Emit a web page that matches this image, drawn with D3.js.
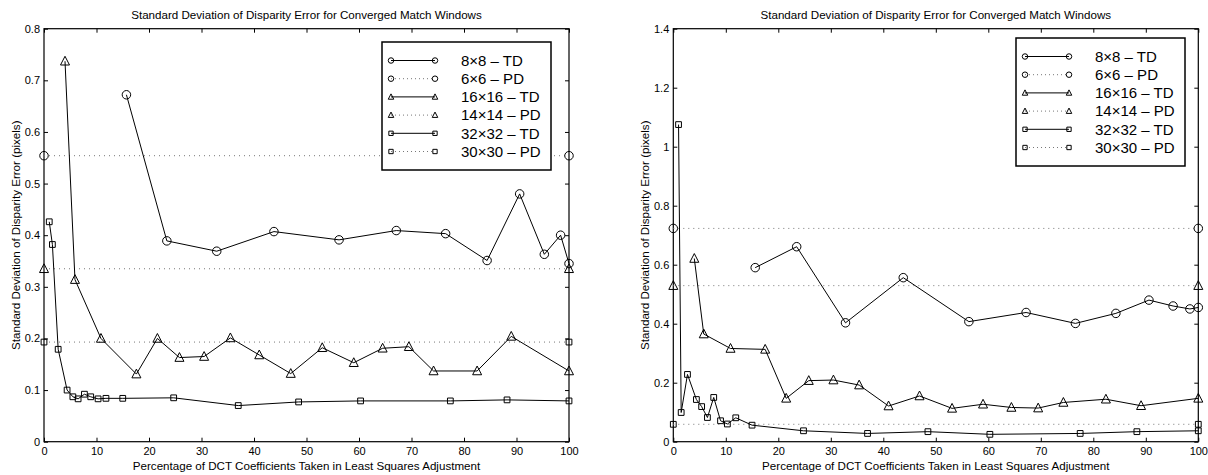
<!DOCTYPE html>
<html>
<head>
<meta charset="utf-8">
<script src="https://cdn.jsdelivr.net/npm/d3@7"></script>
<style>
  body { margin: 0; background: #fff; }
  text { font-family: "Liberation Sans", Helvetica, Arial, sans-serif; fill: #000; }
</style>
</head>
<body>
<script>
// values
const xTicks = [0, 10, 20, 30, 40, 50, 60, 70, 80, 90, 100];
const leftYTicks = [0, 0.1, 0.2, 0.3, 0.4, 0.5, 0.6, 0.7, 0.8];
const rightYTicks = [0, 0.2, 0.4, 0.6, 0.8, 1, 1.2, 1.4];

const legendLabels = ["8×8 – TD", "6×6 – PD", "16×16 – TD", "14×14 – PD", "32×32 – TD", "30×30 – PD"];
const markerKinds = ["circle", "triangle", "square"];

const titleText = "Standard Deviation of Disparity Error for Converged Match Windows";
const xLabelText = "Percentage of DCT Coefficients Taken in Least Squares Adjustment";
const yLabelText = "Standard Deviation of Disparity Error (pixels)";

// left panel
const leftTD8 = [[15.7,0.672],[23.4,0.389],[32.9,0.369],[43.8,0.407],[56.2,0.391],[67.1,0.409],
  [76.5,0.403],[84.4,0.351],[90.6,0.480],[95.3,0.363],[98.4,0.400],[100,0.345]];
const leftTD16 = [[4.0,0.737],[5.9,0.314],[10.85,0.200],[17.6,0.131],[21.6,0.200],[25.8,0.163],
  [30.5,0.165],[35.5,0.201],[41.0,0.168],[47.0,0.132],[53.0,0.182],[59.0,0.153],[64.5,0.181],
  [69.5,0.184],[74.2,0.137],[82.5,0.137],[89.0,0.204],[100,0.137]];
const leftTD32 = [[1.0,0.426],[1.6,0.382],[2.7,0.179],[4.4,0.100],[5.5,0.087],[6.5,0.083],
  [7.7,0.092],[8.9,0.087],[10.3,0.083],[11.8,0.084],[15.0,0.084],[24.7,0.085],[37.0,0.070],
  [48.5,0.077],[60.3,0.079],[77.4,0.079],[88.2,0.081],[100,0.079]];
const leftPD = [0.554, 0.335, 0.193];

// right panel
const rightTD8 = [[15.6,0.590],[23.5,0.661],[32.8,0.403],[43.8,0.556],[56.3,0.407],[67.2,0.438],
  [76.6,0.401],[84.3,0.435],[90.6,0.480],[95.2,0.460],[98.4,0.450],[100,0.455]];
const rightTD16 = [[4.0,0.621],[5.8,0.365],[10.9,0.316],[17.5,0.313],[21.5,0.147],[25.8,0.207],
  [30.5,0.209],[35.4,0.192],[41.0,0.121],[46.9,0.155],[53.1,0.113],[59.0,0.127],[64.4,0.116],
  [69.5,0.114],[74.3,0.133],[82.4,0.144],[89.1,0.122],[100,0.147]];
const rightTD32 = [[1.0,1.075],[1.5,0.099],[2.7,0.228],[4.4,0.143],[5.4,0.119],[6.5,0.082],
  [7.7,0.150],[9.0,0.071],[10.3,0.060],[11.9,0.081],[15.0,0.056],[24.8,0.037],[37.0,0.028],
  [48.5,0.034],[60.3,0.025],[77.5,0.028],[88.3,0.034],[100,0.037]];
const rightPD = [0.723, 0.529, 0.059];

const svg = d3.select("body").append("svg")
  .attr("width", 1208)
  .attr("height", 475);

// marker path, centred on 0,0
function markerPath(kind, s) {
  if (kind === "circle") {
    const r = s / 2;
    return `M${r},0A${r},${r} 0 1,1 ${-r},0A${r},${r} 0 1,1 ${r},0Z`;
  }
  if (kind === "triangle") {
    return `M0,${-s * 0.55}L${s / 2},${s * 0.42}L${-s / 2},${s * 0.42}Z`;
  }
  const h = s * 0.36;
  return `M${-h},${-h}H${h}V${h}H${-h}Z`;
}
const markerSize = { circle: 8.5, triangle: 9, square: 8 };

function drawPanel(p) {
  const g = svg.append("g");
  const x = d3.scaleLinear().domain([0, 100]).range([p.left, p.right]);
  const y = d3.scaleLinear().domain(p.yDomain).range([p.bottom, p.top]);
  const fmt = d3.format("~g");

  // ticks on all four sides, pointing in
  const axes = [
    [d3.axisBottom(x).tickValues(xTicks).tickFormat(fmt).tickPadding(6), `translate(0,${p.bottom})`],
    [d3.axisTop(x).tickValues(xTicks).tickFormat(""), `translate(0,${p.top})`],
    [d3.axisLeft(y).tickValues(p.yTicks).tickFormat(fmt).tickPadding(4), `translate(${p.left},0)`],
    [d3.axisRight(y).tickValues(p.yTicks).tickFormat(""), `translate(${p.right},0)`]
  ];
  axes.forEach(([ax, tr]) => {
    const a = g.append("g").attr("transform", tr)
      .call(ax.tickSizeInner(-4).tickSizeOuter(0));
    a.select(".domain").remove();
    a.selectAll("line").attr("stroke", "#000");
    a.selectAll("text").style("font-size", "11px").attr("fill", "#000");
  });

  g.append("rect")
    .attr("x", p.left).attr("y", p.top)
    .attr("width", p.right - p.left).attr("height", p.bottom - p.top)
    .attr("fill", "none").attr("stroke", "#000").attr("stroke-width", 1.2);

  // PD reference levels: dotted lines with markers at both ends
  p.pd.forEach((v, i) => {
    g.append("line")
      .attr("x1", x(0)).attr("x2", x(100))
      .attr("y1", y(v)).attr("y2", y(v))
      .attr("stroke", "#777").attr("stroke-dasharray", "1,4");
    g.selectAll(null).data([0, 100]).enter().append("path")
      .attr("transform", d => `translate(${x(d)},${y(v)})`)
      .attr("d", markerPath(markerKinds[i], markerSize[markerKinds[i]]))
      .attr("fill", "none").attr("stroke", "#000");
  });

  const line = d3.line().x(d => x(d[0])).y(d => y(d[1]));
  p.td.forEach((series, i) => {
    const kind = markerKinds[i];
    g.append("path").datum(series)
      .attr("d", line)
      .attr("fill", "none").attr("stroke", "#000").attr("stroke-width", 1);
    g.selectAll(null).data(series).enter().append("path")
      .attr("transform", d => `translate(${x(d[0])},${y(d[1])})`)
      .attr("d", markerPath(kind, markerSize[kind]))
      .attr("fill", "none").attr("stroke", "#000");
  });

  const cx = (p.left + p.right) / 2;
  g.append("text").attr("x", cx).attr("y", 18.5)
    .attr("text-anchor", "middle").style("font-size", "11.6px").text(titleText);
  g.append("text").attr("x", cx).attr("y", 470)
    .attr("text-anchor", "middle").style("font-size", "11.6px").text(xLabelText);
  g.append("text")
    .attr("transform", `translate(${p.yLabelX},${(p.top + p.bottom) / 2}) rotate(-90)`)
    .attr("text-anchor", "middle").style("font-size", "11.6px").text(yLabelText);

  // legend
  const L = p.legend;
  const lg = g.append("g").attr("transform", `translate(${L.x},${L.y})`);
  lg.append("rect").attr("width", 169).attr("height", 128)
    .attr("fill", "#fff").attr("stroke", "#000").attr("stroke-width", 1.5);
  legendLabels.forEach((lab, i) => {
    const ry = 18.5 + i * 18.2;
    const kind = markerKinds[Math.floor(i / 2)];
    const dotted = i % 2 === 1;
    lg.append("line").attr("x1", 9).attr("x2", 53).attr("y1", ry).attr("y2", ry)
      .attr("stroke", dotted ? "#777" : "#000")
      .attr("stroke-dasharray", dotted ? "1,3" : null);
    [9, 53].forEach(mx => {
      lg.append("path").attr("transform", `translate(${mx},${ry})`)
        .attr("d", markerPath(kind, kind === "square" ? 6 : 5.5))
        .attr("fill", "none").attr("stroke", "#000");
    });
    lg.append("text").attr("x", 79).attr("y", ry + 5.3)
      .style("font-size", "15px").text(lab);
  });
}

drawPanel({
  left: 44, right: 569, top: 28.7, bottom: 441.7,
  yDomain: [0, 0.8], yTicks: leftYTicks,
  td: [leftTD8, leftTD16, leftTD32], pd: leftPD,
  legend: { x: 382, y: 42 }, yLabelX: 19.5
});

drawPanel({
  left: 673.3, right: 1198.3, top: 28.7, bottom: 441.7,
  yDomain: [0, 1.4], yTicks: rightYTicks,
  td: [rightTD8, rightTD16, rightTD32], pd: rightPD,
  legend: { x: 1016, y: 38 }, yLabelX: 648.5
});
</script>
</body>
</html>
